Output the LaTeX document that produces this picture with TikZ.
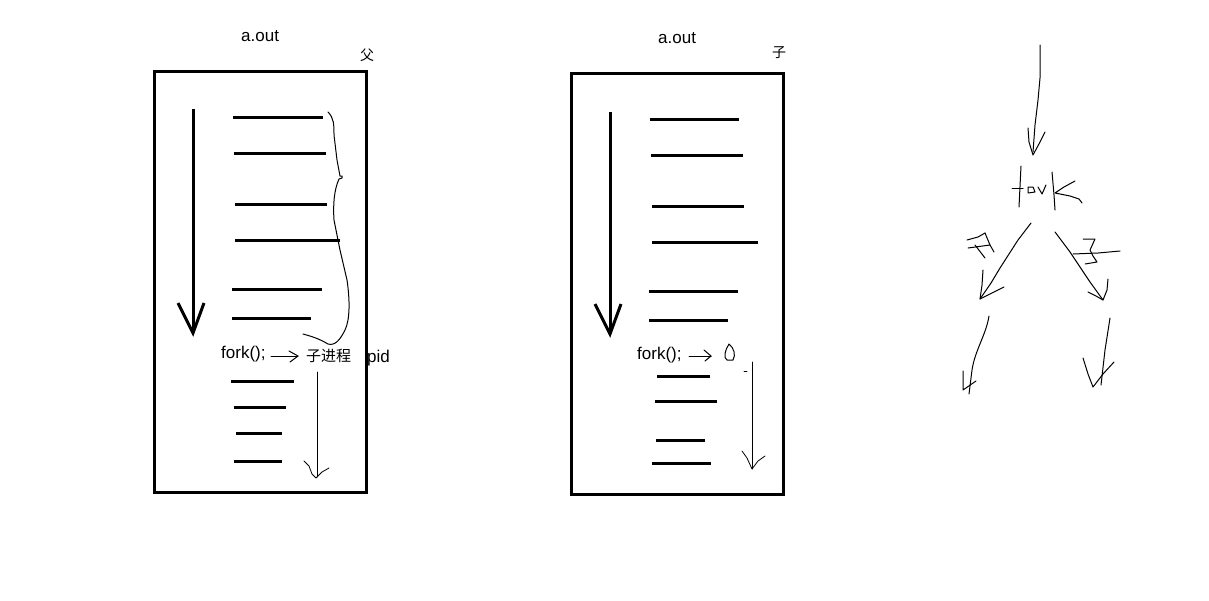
\documentclass[tikz,border=0pt]{standalone}
\usepackage{fontspec}
\setmainfont{Liberation Sans}
\newfontfamily\cjk{Noto Sans CJK SC}
\begin{document}
\begin{tikzpicture}[x=1pt,y=-1pt,
  boxline/.style={line width=3pt},
  bar/.style={line width=3pt},
  bigarrow/.style={line width=3pt, line join=miter},
  pen/.style={line width=1pt, line join=round, line cap=round},
  lbl/.style={font=\fontsize{17}{20}\selectfont, inner sep=0pt, anchor=base west},
  cn/.style={font=\cjk\fontsize{15}{18}\selectfont, inner sep=0pt, anchor=base west}]
\useasboundingbox (0,0) rectangle (1209,600);
\fill[white] (0,0) rectangle (1209,600);

% ===== left box (parent) =====
\draw[boxline] (154,71) rectangle (366,492);
\node[lbl] (aoutL) at (241,41) {a.out};
\node[cn, font=\cjk\fontsize{14}{16}\selectfont] (fu) at (360,60) {父};
\foreach \y/\a/\b in {117/233/323,153/234/326,204/235/327,240/235/340,289/232/322,318/232/311,381/231/294,407/234/286,433/236/282,461/234/282}
  \draw[bar] (\a,\y) -- (\b,\y);
\draw[bigarrow] (193,109) -- (193,331);
\draw[bigarrow] (178,303) -- (193,333) -- (204,303);
% hand-drawn brace
\draw[pen] (328,112) .. controls (334,118) and (334,125) .. (334,135)
  -- (337,160) -- (340,176) -- (342,176) -- (342,178) -- (339,179)
  .. controls (334,190) and (333,205) .. (334,220)
  -- (340,250) -- (347,280) .. controls (350,300) and (350,320) .. (345,330)
  .. controls (340,340) and (335,346) .. (328,344)
  .. controls (318,338) and (310,336) .. (303,334);
\node[lbl] (forkL) at (221,358) {fork();};
\draw[pen] (271,356) -- (298,356);
\draw[pen] (289,351) -- (298,356) -- (290,362);
\node[cn] (zj) at (306,361) {子进程};
\node[lbl] (pid) at (367,362) {pid};
\draw[pen, line width=0.8pt] (317,372) -- (317,477);
\draw[pen, line width=0.8pt] (304,461) -- (309,466) -- (312,474) -- (316,478) -- (322,472) -- (329,468);

% ===== right box (child) =====
\draw[boxline] (571,73) rectangle (783,494);
\node[lbl] (aoutR) at (658,43) {a.out};
\node[cn, font=\cjk\fontsize{14}{16}\selectfont] (zi) at (772,57) {子};
\foreach \y/\a/\b in {119/650/739,155/651/743,206/652/744,242/652/758,291/649/738,320/649/728,376/657/710,401/655/717,440/656/705,463/652/711}
  \draw[bar] (\a,\y) -- (\b,\y);
\draw[bigarrow] (610,112) -- (610,332);
\draw[bigarrow] (595,304) -- (610,334) -- (621,304);
\node[lbl] (forkR) at (637,359) {fork();};
\draw[pen] (689,356) -- (711,356);
\draw[pen] (704,350) -- (711,356) -- (705,361);
\draw[pen] (729,344) .. controls (725,350) and (723,358) .. (727,360)
  -- (733,360) .. controls (736,355) and (734,348) .. (729,344);
\draw[pen, line width=0.8pt] (744,371) -- (747,371);
\draw[pen, line width=0.8pt] (752,362) -- (752,469);
\draw[pen, line width=0.8pt] (742,451) -- (747,458) -- (752,469) -- (758,461) -- (765,456);

% ===== hand sketch =====
\draw[pen] (1040,45) -- (1040,78) -- (1038,100) -- (1035,125) -- (1033,152);
\draw[pen] (1028,128) -- (1029,142) -- (1033,155) -- (1040,142) -- (1045,132);
% "fork"
\draw[pen] (1021,166) -- (1019,207);
\draw[pen] (1012,188) -- (1023,188);
\draw[pen] (1028,187) -- (1028,193) -- (1035,192) -- (1033,187) -- (1028,187);
\draw[pen] (1038,187) -- (1042,194) -- (1046,185);
\draw[pen] (1052,172) -- (1054,195) -- (1055,210);
\draw[pen] (1075,181) -- (1064,187) -- (1055,193) -- (1070,196) -- (1079,199) -- (1082,203);
% left diagonal arrow
\draw[pen] (1031,223) -- (1018,240) -- (1000,268) -- (991,283) -- (980,299);
\draw[pen] (983,270) -- (982,285) -- (980,299) -- (992,293) -- (1004,287);
% scribble 父
\draw[pen] (967,240) -- (978,237) -- (985,233);
\draw[pen] (968,248) -- (990,245);
\draw[pen] (985,233) -- (990,245) -- (994,252);
\draw[pen] (975,245) -- (985,258);
% right diagonal arrow
\draw[pen] (1055,232) -- (1070,252) -- (1090,282) -- (1103,300);
\draw[pen] (1088,292) -- (1096,296) -- (1103,300) -- (1107,290) -- (1108,279);
% scribble 子
\draw[pen] (1083,239) -- (1095,239) -- (1090,250) -- (1093,256) -- (1097,262) -- (1085,264);
\draw[pen] (1073,254) -- (1098,253) -- (1120,251);
% lower strokes
\draw[pen] (989,316) .. controls (986,335) and (975,350) .. (972,370) -- (969,394);
\draw[pen] (963,371) -- (963,390) -- (976,381);
\draw[pen] (1110,318) -- (1105,350) -- (1101,385);
\draw[pen] (1083,358) -- (1088,374) -- (1093,387) -- (1103,374) -- (1114,362);
\end{tikzpicture}
\end{document}
